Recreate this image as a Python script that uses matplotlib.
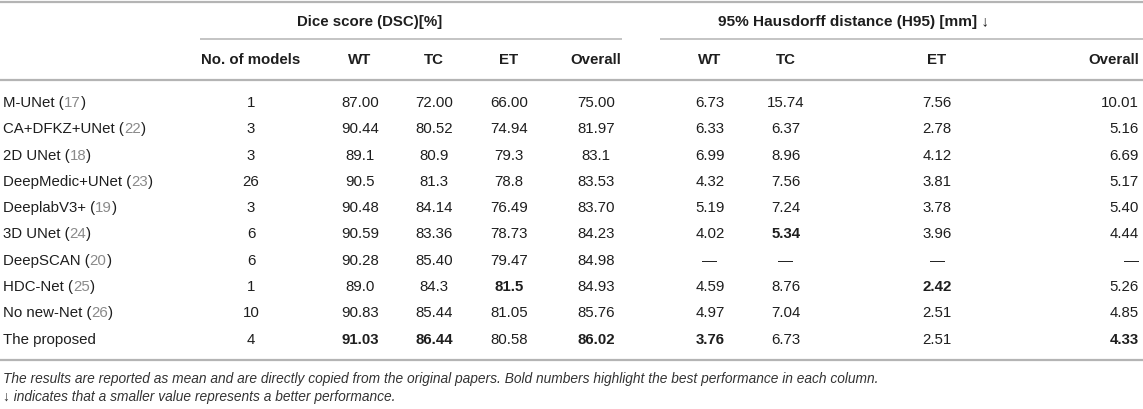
import matplotlib.pyplot as plt

# table content
names = ["M-UNet", "CA+DFKZ+UNet", "2D UNet", "DeepMedic+UNet", "DeeplabV3+",
         "3D UNet", "DeepSCAN", "HDC-Net", "No new-Net", "The proposed"]
refs = ["17", "22", "18", "23", "19", "24", "20", "25", "26", ""]
n_models = ["1", "3", "3", "26", "3", "6", "6", "1", "10", "4"]
dsc_wt = ["87.00", "90.44", "89.1", "90.5", "90.48", "90.59", "90.28", "89.0", "90.83", "91.03"]
dsc_tc = ["72.00", "80.52", "80.9", "81.3", "84.14", "83.36", "85.40", "84.3", "85.44", "86.44"]
dsc_et = ["66.00", "74.94", "79.3", "78.8", "76.49", "78.73", "79.47", "81.5", "81.05", "80.58"]
dsc_all = ["75.00", "81.97", "83.1", "83.53", "83.70", "84.23", "84.98", "84.93", "85.76", "86.02"]
h95_wt = ["6.73", "6.33", "6.99", "4.32", "5.19", "4.02", "\u2014", "4.59", "4.97", "3.76"]
h95_tc = ["15.74", "6.37", "8.96", "7.56", "7.24", "5.34", "\u2014", "8.76", "7.04", "6.73"]
h95_et = ["7.56", "2.78", "4.12", "3.81", "3.78", "3.96", "\u2014", "2.42", "2.51", "2.51"]
h95_all = ["10.01", "5.16", "6.69", "5.17", "5.40", "4.44", "\u2014", "5.26", "4.85", "4.33"]

col_headers = ["No. of models", "WT", "TC", "ET", "Overall", "WT", "TC", "ET", "Overall"]
group_titles = ["Dice score (DSC)[%]", "95% Hausdorff distance (H95) [mm] \u2193"]
# (row, column) of best values, shown bold
bold_cells = {(5, 6), (7, 3), (7, 7), (9, 1), (9, 2), (9, 4), (9, 5), (9, 8)}

footnotes = [
    "The results are reported as mean and are directly copied from the original papers. "
    "Bold numbers highlight the best performance in each column.",
    "\u2193 indicates that a smaller value represents a better performance.",
]

plt.rcParams['font.family'] = ['Liberation Sans', 'DejaVu Sans']

W, H = 1143, 410
fig = plt.figure(figsize=(W / 100, H / 100), dpi=100)
ax = fig.add_axes([0, 0, 1, 1])
ax.set_xlim(0, W)
ax.set_ylim(H, 0)
ax.axis('off')

fs = 10.8
fs_note = 9.9
rule_col = '#b4b4b4'
txt_col = '#1e1e1e'

columns = [n_models, dsc_wt, dsc_tc, dsc_et, dsc_all, h95_wt, h95_tc, h95_et, h95_all]
col_x = [251, 360, 434, 509, 596, 710, 786, 937, 1139]
col_ha = ['center'] * 8 + ['right']

row_y0 = 103
row_step = 26.3
header_y = 60

# rules
ax.hlines(3, 0, W, color=rule_col, lw=1.6)
ax.hlines(39.5, 200, 622, color=rule_col, lw=1.1)
ax.hlines(39.5, 660, W, color=rule_col, lw=1.1)
ax.hlines(81, 0, W, color=rule_col, lw=1.6)
ax.hlines(361, 0, W, color=rule_col, lw=1.6)

# group titles
ax.text(370, 22, group_titles[0], ha='center', va='center', fontsize=fs,
        fontweight='bold', color=txt_col)
ax.text(854, 22, group_titles[1], ha='center', va='center', fontsize=fs + 0.3,
        fontweight='bold', color=txt_col)

# column headers
for j, lab in enumerate(col_headers):
    ax.text(col_x[j], header_y, lab, ha=col_ha[j], va='center', fontsize=fs,
            fontweight='bold', color=txt_col)

# rows
for i, name in enumerate(names):
    y = row_y0 + i * row_step
    if refs[i]:
        t = ax.text(3, y, name + " (", ha='left', va='center', fontsize=fs, color=txt_col)
        r = ax.annotate(refs[i], xycoords=t, xy=(1, 0.5), va='center', ha='left',
                        fontsize=fs, color='#8a8a8a')
        ax.annotate(")", xycoords=r, xy=(1, 0.5), va='center', ha='left',
                    fontsize=fs, color=txt_col)
    else:
        ax.text(3, y, name, ha='left', va='center', fontsize=fs, color=txt_col)
    for j, col in enumerate(columns):
        wt = 'bold' if (i, j) in bold_cells else 'normal'
        ax.text(col_x[j], y, col[i], ha=col_ha[j], va='center', fontsize=fs,
                fontweight=wt, color=txt_col)

# footnotes
ax.text(3, 379, footnotes[0], ha='left', va='center', fontsize=fs_note,
        style='italic', color='#333333')
ax.text(3, 397, footnotes[1], ha='left', va='center', fontsize=fs_note,
        style='italic', color='#333333')

fig.savefig('out.png', dpi=100)
